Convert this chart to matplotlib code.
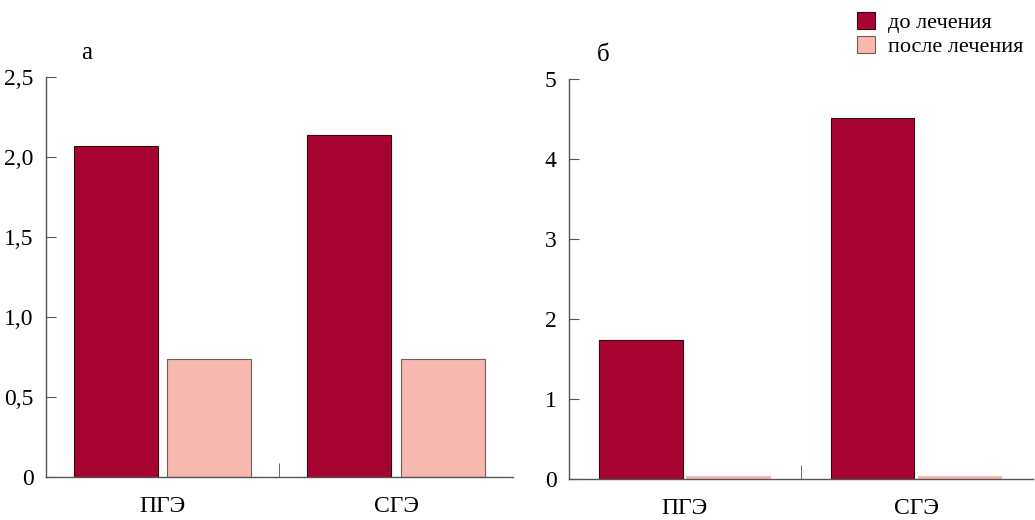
import numpy as np
import matplotlib.pyplot as plt
from matplotlib.ticker import FixedLocator, FuncFormatter
from matplotlib.patches import Patch

# data
groups = ['ПГЭ', 'СГЭ']
before_a = [2.07, 2.14]
after_a = [0.74, 0.74]
before_b = [1.74, 4.51]
after_b = [0.04, 0.04]
series_names = ['до лечения', 'после лечения']

c_before = '#A80432'
c_after = '#F7B8AF'

plt.rcParams['font.family'] = ['Liberation Serif', 'DejaVu Serif']

fig = plt.figure(figsize=(10.35, 5.2), dpi=100)
ax1 = fig.add_axes([0.0444, 0.0827, 0.451, 0.769])
ax2 = fig.add_axes([0.5498, 0.0788, 0.448, 0.769])

x = np.arange(len(groups))


def style(ax, ymax, yticks, fmt):
    ax.set_xlim(-0.5, 1.5)
    ax.set_ylim(0, ymax)
    for s in ['top', 'right']:
        ax.spines[s].set_visible(False)
    for s in ['left', 'bottom']:
        ax.spines[s].set_color('#555555')
        ax.spines[s].set_linewidth(1.0)
    ax.set_yticks(yticks)
    ax.yaxis.set_major_formatter(FuncFormatter(fmt))
    ax.tick_params(axis='y', direction='in', length=7, color='#555555',
                   labelsize=17, pad=9)
    ax.set_xticks(x)
    ax.set_xticklabels(groups)
    ax.tick_params(axis='x', length=0, labelsize=17, pad=14)
    ax.xaxis.set_minor_locator(FixedLocator([0.5]))
    ax.tick_params(axis='x', which='minor', direction='in', length=10,
                   color='#555555')


# panel а
w = 0.36
ax1.bar(x - 0.2, before_a, w, color=c_before, edgecolor='#3a0010', linewidth=0.8)
ax1.bar(x + 0.2, after_a, w, color=c_after, edgecolor='#7a5a56', linewidth=0.8)
style(ax1, 2.5, [0, 0.5, 1.0, 1.5, 2.0, 2.5],
      lambda v, p: '0' if v == 0 else f'{v:.1f}'.replace('.', ','))
ax1.text(0.075, 1.045, 'а', transform=ax1.transAxes, fontsize=18)

# panel б
ax2.bar(x - 0.19, before_b, w, color=c_before, edgecolor='#3a0010', linewidth=0.8)
ax2.bar(x + 0.185, after_b, w, color=c_after, edgecolor=c_after, linewidth=0.8)
style(ax2, 5, [0, 1, 2, 3, 4, 5], lambda v, p: f'{int(v)}')
ax2.text(0.06, 1.045, 'б', transform=ax2.transAxes, fontsize=18)

handles = [Patch(facecolor=c_before, edgecolor='#3a0010', linewidth=0.8),
           Patch(facecolor=c_after, edgecolor='#7a5a56', linewidth=0.8)]
fig.legend(handles, series_names, loc='upper right', bbox_to_anchor=(1.008, 1.015),
           frameon=False, fontsize=16, handlelength=0.8, handleheight=0.8,
           handletextpad=0.6, labelspacing=0.1)

fig.savefig('out.png', dpi=100)
